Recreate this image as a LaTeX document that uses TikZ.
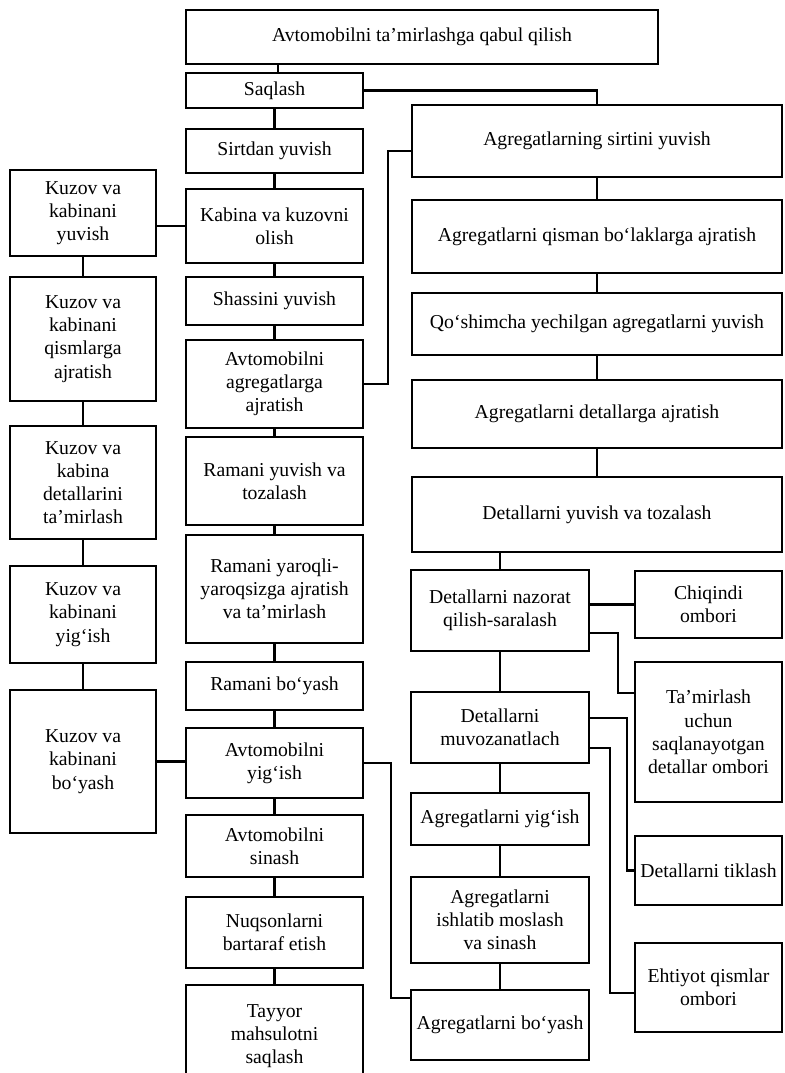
\documentclass[tikz,border=0pt]{standalone}
\usepackage{fontspec}
\setmainfont{Liberation Serif}
\usepackage{tikz}
\usetikzlibrary{positioning}
\tikzset{stage/.style={draw, line width=1.4pt, align=center, inner sep=1pt, font=\fontsize{14}{16.5}\selectfont}}
\tikzset{sz/.style 2 args={minimum width=#1*0.025cm, minimum height=#2*0.025cm}}
\tikzset{link/.style={line width=1.7pt}}

\begin{document}
\begin{tikzpicture}[x=0.025cm, y=-0.025cm, line width=1.4pt]
\useasboundingbox (0,0) rectangle (784,1073);
\node[stage, sz={472}{54}] (q0) at (422,37) {Avtomobilni ta’mirlashga qabul qilish};
\node[stage, sz={177}{35}] (c1) at (274.5,90.5) {Saqlash};
\node[stage, sz={177}{44}] (c2) at (274.5,151) {Sirtdan yuvish};
\node[stage, sz={177}{74}] (c3) at (274.5,226) {Kabina va kuzovni\\olish};
\node[stage, sz={177}{48}] (c4) at (274.5,301) {Shassini yuvish};
\node[stage, sz={177}{88}] (c5) at (274.5,384) {Avtomobilni\\agregatlarga\\ajratish};
\node[stage, sz={177}{88}] (c6) at (274.5,481) {Ramani yuvish va\\tozalash};
\node[stage, sz={177}{108}] (c7) at (274.5,589) {Ramani yaroqli-\\yaroqsizga ajratish\\va ta’mirlash};
\node[stage, sz={177}{48}] (c8) at (274.5,686) {Ramani bo‘yash};
\node[stage, sz={177}{70}] (c9) at (274.5,763) {Avtomobilni\\yig‘ish};
\node[stage, sz={177}{62}] (c10) at (274.5,846) {Avtomobilni\\sinash};
\node[stage, sz={177}{71}] (c11) at (274.5,932.5) {Nuqsonlarni\\bartaraf etish};
\node[stage, sz={177}{102}] (c12) at (274.5,1036) {Tayyor\\mahsulotni\\saqlash};
\node[stage, sz={146}{86}] (k1) at (83,213) {Kuzov va\\kabinani\\yuvish};
\node[stage, sz={146}{124}] (k2) at (83,339) {Kuzov va\\kabinani\\qismlarga\\ajratish};
\node[stage, sz={146}{113}] (k3) at (83,482.5) {Kuzov va\\kabina\\detallarini\\ta’mirlash};
\node[stage, sz={146}{97}] (k4) at (83,614.5) {Kuzov va\\kabinani\\yig‘ish};
\node[stage, sz={146}{143}] (k5) at (83,761.5) {Kuzov va\\kabinani\\bo‘yash};
\node[stage, sz={370}{72}] (a1) at (597,141) {Agregatlarning sirtini yuvish};
\node[stage, sz={370}{73}] (a2) at (597,236.5) {Agregatlarni qisman bo‘laklarga ajratish};
\node[stage, sz={370}{62}] (a3) at (597,324) {Qo‘shimcha yechilgan agregatlarni yuvish};
\node[stage, sz={370}{68}] (a4) at (597,414) {Agregatlarni detallarga ajratish};
\node[stage, sz={370}{75}] (a5) at (597,514.5) {Detallarni yuvish va tozalash};
\node[stage, sz={178}{81}] (d1) at (500,610.5) {Detallarni nazorat\\qilish-saralash};
\node[stage, sz={178}{71}] (d2) at (500,727.5) {Detallarni\\muvozanatlach};
\node[stage, sz={178}{52}] (d3) at (500,819) {Agregatlarni yig‘ish};
\node[stage, sz={178}{86}] (d4) at (500,920) {Agregatlarni\\ishlatib moslash\\va sinash};
\node[stage, sz={178}{70}] (d5) at (500,1025) {Agregatlarni bo‘yash};
\node[stage, sz={147}{67}] (o1) at (708.5,604.5) {Chiqindi\\ombori};
\node[stage, sz={147}{140}] (o2) at (708.5,732) {Ta’mirlash\\uchun\\saqlanayotgan\\detallar ombori};
\node[stage, sz={147}{69}] (o3) at (708.5,870.5) {Detallarni tiklash};
\node[stage, sz={147}{89}] (o4) at (708.5,987.5) {Ehtiyot qismlar\\ombori};
\draw[link] ([xshift=0.09cm]q0.south -| c1) -- ([xshift=0.09cm]c1.north);
\foreach \i/\j in {1/2, 2/3, 3/4, 4/5, 5/6, 6/7, 7/8, 8/9, 9/10, 10/11, 11/12} \draw[link] (c\i) -- (c\j);
\foreach \i/\j in {1/2, 2/3, 3/4, 4/5} \draw[link] (k\i) -- (k\j);
\foreach \i/\j in {1/2, 2/3, 3/4, 4/5} \draw[link] (a\i) -- (a\j);
\foreach \i/\j in {1/2, 2/3, 3/4, 4/5} \draw[link] (d\i) -- (d\j);
\draw[link] (c1.east) -| (a1.north);
\draw[link] (c5.east) -- ++(24,0) |- ([yshift=-0.25cm]a1.west);
\draw[link] (c3.west -| k1.east) -- (c3.west);
\draw[link] (k5.east) -- (k5.east -| c9.west);
\draw[link] (d1.north) -- (d1.north |- a5.south);
\draw[link] (o1.west -| d1.east) -- (o1.west);
\draw[link] ([yshift=-0.56cm]d1.east) -- ++(28,0) |- ([yshift=0.97cm]o2.west);
\draw[link] ([yshift=0.24cm]d2.east) -- ++(37,0) |- (o3.west);
\draw[link] ([yshift=-0.51cm]d2.east) -- ++(20,0) |- ([yshift=-0.14cm]o4.west);
\draw[link] (c9.east) -- ++(27,0) |- ([yshift=0.67cm]d5.west);
\end{tikzpicture}
\end{document}
